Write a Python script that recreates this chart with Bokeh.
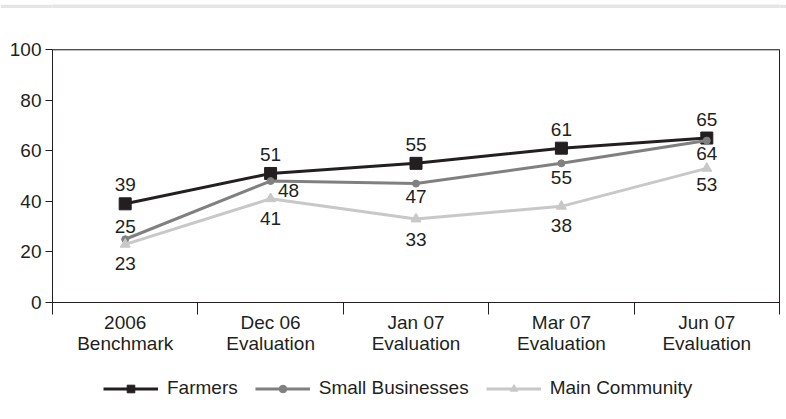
from bokeh.plotting import figure
from bokeh.models import (Range1d, FixedTicker, ColumnDataSource, LabelSet, Legend,
                          LegendItem, Span)
from bokeh.layouts import column
from bokeh.core.properties import value
from bokeh.embed import file_html
from bokeh.resources import INLINE
import numpy as np

categories = ["2006\nBenchmark", "Dec 06\nEvaluation", "Jan 07\nEvaluation",
              "Mar 07\nEvaluation", "Jun 07\nEvaluation"]
series_names = ["Farmers", "Small Businesses", "Main Community"]
farmers = [39, 51, 55, 61, 65]
small_businesses = [25, 48, 47, 55, 64]
main_community = [23, 41, 33, 38, 53]
y_ticks = [0, 20, 40, 60, 80, 100]

# label offsets (pixels)
farm_dy = [19, 19, 19, 19, 19]
sb_dx = [0, 18, 0, 0, 0]
sb_dy = [13, -9, -13, -14, -13]
mc_dy = [-19, -20, -20, -19, -16]

FONT = "Liberation Sans"
TXT = "#231f20"
FS = "19px"
c_f, c_s, c_m = "#231f20", "#808080", "#c8c8c8"

n = len(categories)
xs = np.arange(n) + 0.5

# thin grey band at the very top
band = figure(width=786, height=8, output_backend="svg", toolbar_location=None,
              x_axis_type=None, y_axis_type=None, min_border=0,
              background_fill_color="#e5e5e5", border_fill_color="#e5e5e5",
              outline_line_color=None)
band.grid.visible = False

p = figure(width=786, height=362, output_backend="svg", toolbar_location=None,
           x_range=Range1d(0, n), y_range=Range1d(0, 100),
           min_border_left=52, min_border_right=7, min_border_top=41,
           min_border_bottom=68)
p.grid.visible = False
p.outline_line_color = "#231f20"
p.outline_line_width = 1
p.background_fill_color = "white"
p.border_fill_color = "white"

p.xaxis.ticker = FixedTicker(ticks=list(xs), minor_ticks=list(range(n + 1)))
p.xaxis.major_label_overrides = {float(x): c for x, c in zip(xs, categories)}
p.xaxis.major_tick_out = 0
p.xaxis.major_tick_in = 0
p.xaxis.minor_tick_out = 12
p.xaxis.minor_tick_in = 0
p.xaxis.minor_tick_line_color = "#231f20"
p.xaxis.axis_line_color = "#231f20"
p.xaxis.major_label_standoff = -3
p.xaxis.major_label_text_font = FONT
p.xaxis.major_label_text_font_size = FS
p.xaxis.major_label_text_color = TXT
p.xaxis.major_label_text_line_height = 1.04

p.yaxis.ticker = FixedTicker(ticks=y_ticks)
p.yaxis.minor_tick_line_color = None
p.yaxis.major_tick_out = 7
p.yaxis.major_tick_in = 0
p.yaxis.major_tick_line_color = "#231f20"
p.yaxis.axis_line_color = "#231f20"
p.yaxis.major_label_standoff = 4
p.yaxis.major_label_text_font = FONT
p.yaxis.major_label_text_font_size = FS
p.yaxis.major_label_text_color = TXT

p.add_layout(Span(location=100, dimension="width", line_color="#7f7f7f", line_width=2))

src = ColumnDataSource(dict(x=xs, farm=farmers, sb=small_businesses, mc=main_community,
                            farm_lbl=[str(v) for v in farmers],
                            sb_lbl=[str(v) for v in small_businesses],
                            mc_lbl=[str(v) for v in main_community],
                            farm_dy=farm_dy, sb_dx=sb_dx, sb_dy=sb_dy, mc_dy=mc_dy))

p.line("x", "farm", source=src, line_color=c_f, line_width=3)
p.scatter("x", "farm", source=src, marker="square", size=12, color=c_f)
p.line("x", "sb", source=src, line_color=c_s, line_width=3)
p.scatter("x", "sb", source=src, marker="circle", size=7, color=c_s)
p.line("x", "mc", source=src, line_color=c_m, line_width=3)
p.scatter("x", "mc", source=src, marker="triangle", size=10, color=c_m)

common = dict(source=src, text_font=value(FONT), text_font_size=value(FS),
              text_color=TXT, text_align="center", text_baseline="middle")
p.add_layout(LabelSet(x="x", y="farm", text="farm_lbl", y_offset="farm_dy", **common))
p.add_layout(LabelSet(x="x", y="sb", text="sb_lbl", x_offset="sb_dx", y_offset="sb_dy", **common))
p.add_layout(LabelSet(x="x", y="mc", text="mc_lbl", y_offset="mc_dy", **common))

# legend strip below the chart (series drawn out of view, only the legend shows)
lf = figure(width=786, height=57, output_backend="svg", toolbar_location=None,
            x_axis_type=None, y_axis_type=None, min_border=0,
            x_range=Range1d(0, n), y_range=Range1d(1000, 1001),
            outline_line_color=None, background_fill_color="white",
            border_fill_color="white")
lf.grid.visible = False
styles = [("farm", c_f, "square", 12), ("sb", c_s, "circle", 7), ("mc", c_m, "triangle", 10)]
items = []
for name, (col_name, col, mk, sz) in zip(series_names, styles):
    r_line = lf.line("x", col_name, source=src, line_color=col, line_width=3)
    r_mark = lf.scatter("x", col_name, source=src, marker=mk, size=sz, color=col)
    items.append(LegendItem(label=name, renderers=[r_line, r_mark]))

legend = Legend(items=items, orientation="horizontal", location=(51, 28),
                label_text_font=FONT, label_text_font_size=FS, label_text_color=TXT,
                glyph_width=55, glyph_height=19, spacing=17, label_standoff=9,
                border_line_color=None, background_fill_alpha=0, margin=0, padding=0)
lf.add_layout(legend)

lay = column(band, p, lf, spacing=0)
open("out.html", "w").write(file_html(lay, INLINE))
